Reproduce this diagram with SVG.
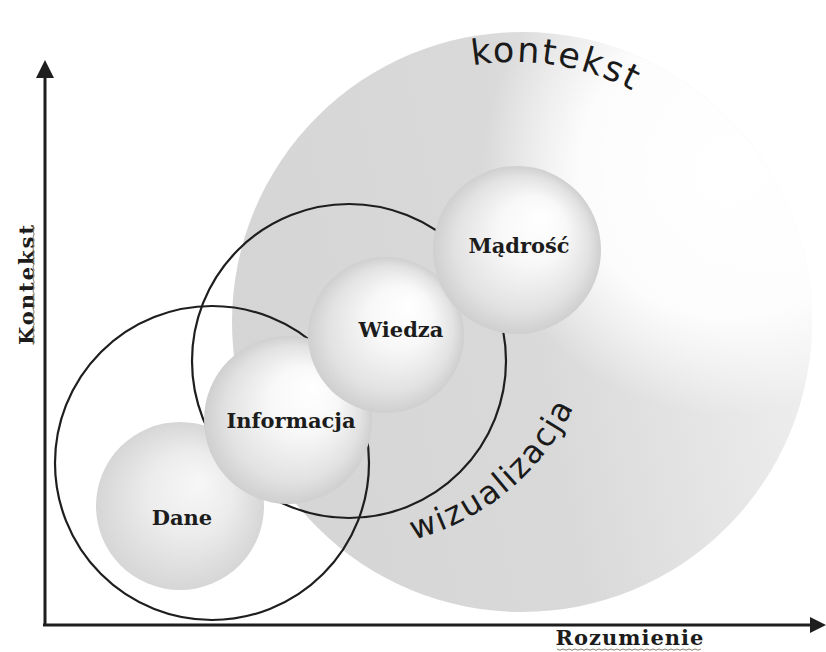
<svg xmlns="http://www.w3.org/2000/svg" width="826" height="652" viewBox="0 0 826 652">
<style>
.lbl{font-family:"DejaVu Serif","Liberation Serif",serif;font-weight:bold;font-size:21px;fill:#1c1c1c;text-anchor:middle}
.ring{fill:none;stroke:#1e1e1e;stroke-width:2.2}
.axis{stroke:#1e1e1e;stroke-width:3;fill:none}
.curv{font-family:"DejaVu Sans","Verdana",sans-serif;fill:#1a1a1a}
.wavy{fill:none;stroke:#8a8070;stroke-width:1}
</style>
<defs>
<linearGradient id="bgL" x1="0" y1="0.55" x2="1" y2="0.35">
<stop offset="0" stop-color="#d5d5d5"/>
<stop offset="0.5" stop-color="#d9d9d9"/>
<stop offset="0.78" stop-color="#e6e6e6"/>
<stop offset="1" stop-color="#f0f0f0"/>
</linearGradient>
<radialGradient id="bgH" cx="0.85" cy="0.24" r="0.42">
<stop offset="0" stop-color="#ffffff" stop-opacity="1"/>
<stop offset="0.6" stop-color="#ffffff" stop-opacity="0.9"/>
<stop offset="1" stop-color="#ffffff" stop-opacity="0"/>
</radialGradient>
<radialGradient id="sph" cx="0.5" cy="0.5" r="0.5" fx="0.66" fy="0.3">
<stop offset="0" stop-color="#ffffff"/>
<stop offset="0.4" stop-color="#f8f8f8"/>
<stop offset="0.8" stop-color="#e2e2e2"/>
<stop offset="1" stop-color="#cfcfcf"/>
</radialGradient>
<radialGradient id="sphL" cx="0.5" cy="0.5" r="0.5" fx="0.62" fy="0.35">
<stop offset="0" stop-color="#f7f7f7"/>
<stop offset="0.5" stop-color="#ececec"/>
<stop offset="1" stop-color="#d6d6d6"/>
</radialGradient>
<path id="arcTop" d="M428.1,77.3 A254,254 0 0 1 735,189"/>
<path id="arcBot" d="M328.4,547 A248,248 0 0 0 598,300"/>
</defs>
<rect width="826" height="652" fill="#ffffff"/>
<g id="context">
<circle cx="522" cy="322" r="290" fill="url(#bgL)"/>
<circle cx="522" cy="322" r="290" fill="url(#bgH)"/>
<text class="curv" font-size="35" letter-spacing="2"><textPath href="#arcTop" startOffset="46">kontekst</textPath></text>
<text class="curv" font-size="32" letter-spacing="2"><textPath href="#arcBot" startOffset="86">wizualizacja</textPath></text>
</g>
<g id="connectors">
<circle class="ring" cx="212" cy="463" r="157"/>
<circle class="ring" cx="349" cy="361" r="157"/>
</g>
<g id="dane">
<circle cx="180" cy="506" r="84" fill="url(#sphL)"/>
<text class="lbl" x="182" y="525">Dane</text>
</g>
<g id="informacja">
<circle cx="288" cy="420" r="84" fill="url(#sph)"/>
<text class="lbl" x="291" y="428">Informacja</text>
</g>
<g id="wiedza">
<circle cx="386" cy="335" r="78" fill="url(#sph)"/>
<text class="lbl" x="401" y="337">Wiedza</text>
</g>
<g id="madrosc">
<circle cx="517" cy="250" r="84" fill="url(#sph)"/>
<text class="lbl" x="519" y="253">Mądrość</text>
</g>
<g id="axes">
<line class="axis" x1="45" y1="626" x2="45" y2="74"/>
<polygon points="45,60 36,78 54,78" fill="#1e1e1e"/>
<line class="axis" x1="43" y1="625" x2="812" y2="625"/>
<polygon points="826,625 810,617 810,633" fill="#1e1e1e"/>
<text class="lbl" letter-spacing="2" transform="translate(34,284) rotate(-90)">Kontekst</text>
<text class="lbl" letter-spacing="1" x="630" y="645">Rozumienie</text>
<path class="wavy" d="M33,225 l1.2,3 -1.2,3 1.2,3 -1.2,3 1.2,3 -1.2,3 1.2,3 -1.2,3 1.2,3 -1.2,3 1.2,3 -1.2,3 1.2,3 -1.2,3 1.2,3 -1.2,3 1.2,3 -1.2,3 1.2,3 -1.2,3 1.2,3 -1.2,3 1.2,3 -1.2,3 1.2,3 -1.2,3 1.2,3 -1.2,3 1.2,3 -1.2,3 1.2,3 -1.2,3 1.2,3 -1.2,3 1.2,3 -1.2,3 1.2,3 -1.2,3 1.2,3 -1.2,3"/>
<path class="wavy" d="M557,649 l3,1.2 3,-1.2 3,1.2 3,-1.2 3,1.2 3,-1.2 3,1.2 3,-1.2 3,1.2 3,-1.2 3,1.2 3,-1.2 3,1.2 3,-1.2 3,1.2 3,-1.2 3,1.2 3,-1.2 3,1.2 3,-1.2 3,1.2 3,-1.2 3,1.2 3,-1.2 3,1.2 3,-1.2 3,1.2 3,-1.2 3,1.2 3,-1.2 3,1.2 3,-1.2 3,1.2 3,-1.2 3,1.2 3,-1.2 3,1.2 3,-1.2 3,1.2 3,-1.2 3,1.2 3,-1.2 3,1.2 3,-1.2 3,1.2 3,-1.2 3,1.2 3,-1.2"/>
</g>
</svg>
